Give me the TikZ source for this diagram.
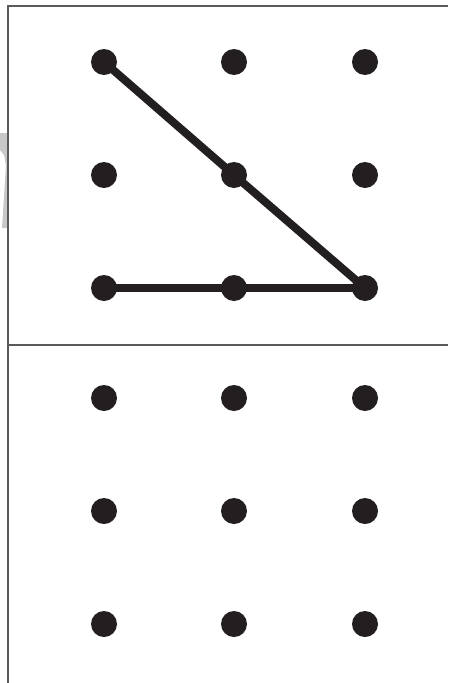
\documentclass[tikz,border=0pt]{standalone}
\definecolor{dotblack}{HTML}{231F20}
\definecolor{framegray}{HTML}{5A5A5A}
\definecolor{markgray}{HTML}{C8C8C8}
\tikzset{
  peg/.style={circle,fill=dotblack,inner sep=0pt,minimum size=26pt},
  band/.style={line width=8pt,dotblack,shorten <=-6pt,shorten >=-6pt},
  frameline/.style={line width=1.2pt,framegray}
}
\begin{document}
\begin{tikzpicture}[x=1pt,y=-1pt]
\useasboundingbox (0,0) rectangle (448,683);
\fill[markgray] (0,133) -- (7.5,133) -- (7.5,228) -- (2,228) -- (6,165) -- (4,155) -- (0,150) -- cycle;

\draw[frameline] (8,683) -- (8,6) -- (448,6);
\draw[frameline] (8,345) -- (448,345);

\node[peg] (a1) at (104,62) {};
\node[peg] (a2) at (234,62) {};
\node[peg] (a3) at (365,62) {};
\node[peg] (b1) at (104,175) {};
\node[peg] (b2) at (234,175) {};
\node[peg] (b3) at (365,175) {};
\node[peg] (c1) at (104,288) {};
\node[peg] (c2) at (234,288) {};
\node[peg] (c3) at (365,288) {};

\node[peg] (d1) at (104,398) {};
\node[peg] (d2) at (234,398) {};
\node[peg] (d3) at (365,398) {};
\node[peg] (e1) at (104,511) {};
\node[peg] (e2) at (234,511) {};
\node[peg] (e3) at (365,511) {};
\node[peg] (f1) at (104,624) {};
\node[peg] (f2) at (234,624) {};
\node[peg] (f3) at (365,624) {};

\draw[band] (a1) -- (b2);
\draw[band] (b2) -- (c3);
\draw[band] (c1) -- (c2);
\draw[band] (c2) -- (c3);
\end{tikzpicture}
\end{document}
